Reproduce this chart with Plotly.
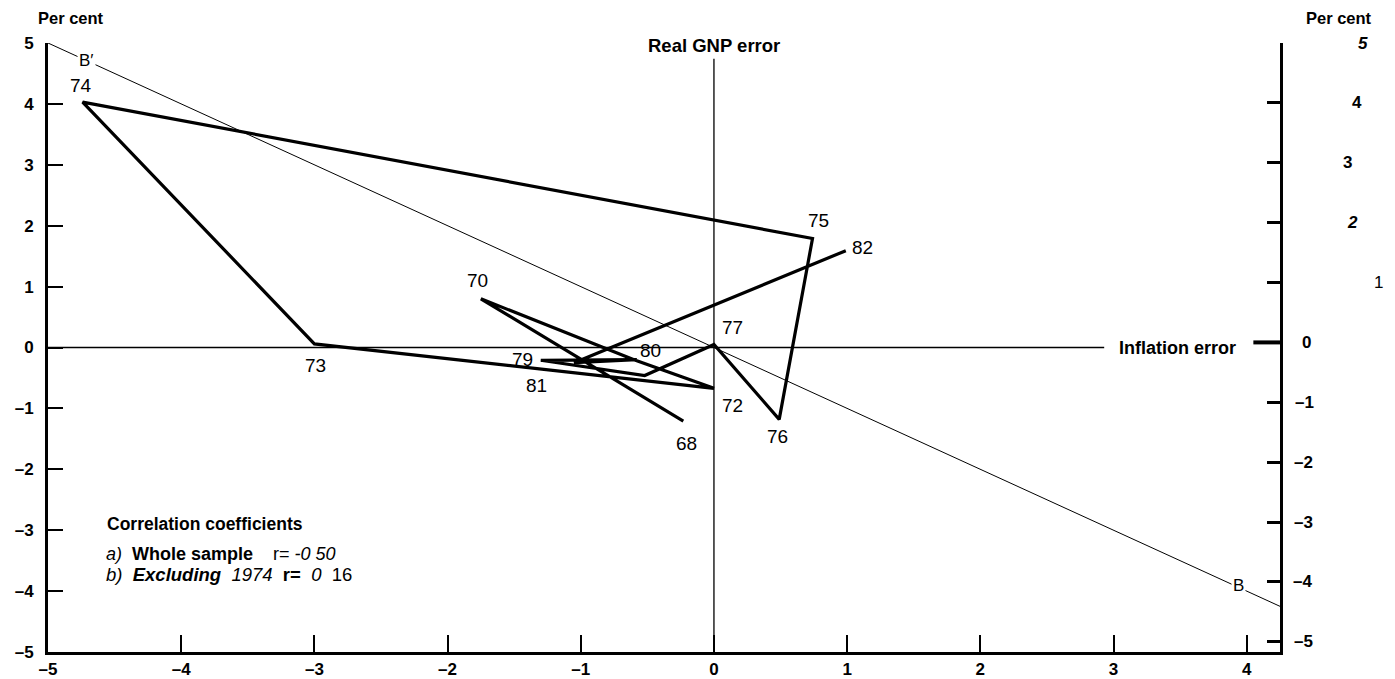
import plotly.graph_objects as go

# ---------------- data ----------------
years = ["68", "70", "71", "72", "73", "74", "75", "76", "77", "78", "79", "80", "81", "82"]
year_labels = ["68", "70", "", "72", "73", "74", "75", "76", "77", "", "79", "80", "81", "82"]
inflation_error = [-0.23, -1.75, -0.60, 0.00, -3.00, -4.74, 0.74, 0.49, 0.00, -0.52, -1.30, -0.58, -1.05, 0.99]
gnp_error = [-1.21, 0.80, -0.20, -0.67, 0.06, 4.03, 1.79, -1.18, 0.05, -0.46, -0.21, -0.20, -0.25, 1.59]

# regression-type reference line B'-B
ref_x = [-5.0, 4.25]
ref_y = [5.0, -4.25]

x_ticks = [-5, -4, -3, -2, -1, 0, 1, 2, 3, 4]
x_tick_text = ["–5", "–4", "–3", "–2", "–1", "0", "1", "2", "3", "4"]
y_ticks = [5, 4, 3, 2, 1, 0, -1, -2, -3, -4, -5]
y_tick_text = ["5", "4", "3", "2", "1", "0", "–1", "–2", "–3", "–4", "–5"]
right_ticks = [5, 4, 3, 2, 1, 0, -1, -2, -3, -4, -5]
right_tick_text = ["5", "4", "3", "2", "1", "0", "–1", "–2", "–3", "–4", "–5"]

# ---------------- styling helpers ----------------
label_offsets = {  # (xshift, yshift) in px for the year labels
    "68": (3, -22), "70": (-3, 18), "72": (19, -17), "73": (1, -22),
    "74": (-2, 17), "75": (6, 18), "76": (-2, -17), "77": (19, 17),
    "79": (-18, 1), "80": (14, 9), "81": (-38, -23), "82": (17, 3),
}
right_label_xshift = [83, 77, 67, 72, 98, 26, 24, 23, 23, 22, 23]
right_label_style = ["bi", "b", "b", "bi", "", "b", "b", "b", "b", "b", "b"]

TICKFONT = dict(family="Liberation Sans Narrow, Arial Narrow, Liberation Sans, Arial",
                size=17, color="black", weight="bold")
TEXTFONT = "Liberation Sans, Arial, sans-serif"

fig = go.Figure()

# reference line
fig.add_trace(go.Scatter(x=ref_x, y=ref_y, mode="lines",
                         line=dict(color="black", width=1), hoverinfo="skip",
                         showlegend=False))

# data path
fig.add_trace(go.Scatter(x=inflation_error, y=gnp_error, mode="lines",
                         line=dict(color="black", width=3.2),
                         text=years, showlegend=False))

# dummy trace for the right axis
fig.add_trace(go.Scatter(x=[None], y=[None], yaxis="y2", showlegend=False))

# axis lines through the origin
fig.add_shape(type="line", xref="x", yref="y", x0=0, x1=0, y0=-5, y1=4.74,
              line=dict(color="black", width=1.3))
fig.add_shape(type="line", xref="x", yref="y", x0=-5, x1=2.93, y0=0, y1=0,
              line=dict(color="black", width=1.3))
# thick zero tick on right axis
fig.add_shape(type="line", xref="x", yref="y2", x0=4.05, x1=4.25, y0=0, y1=0,
              line=dict(color="black", width=4))

annotations = []
for lab, xv, yv in zip(year_labels, inflation_error, gnp_error):
    if not lab:
        continue
    dx, dy = label_offsets[lab]
    annotations.append(dict(x=xv, y=yv, xref="x", yref="y", text=lab, showarrow=False,
                            xshift=dx, yshift=dy,
                            font=dict(family=TEXTFONT, size=19, color="black")))

# B' and B labels
annotations.append(dict(x=-4.71, y=4.71, xref="x", yref="y", text="B′", showarrow=False,
                        bgcolor="white", font=dict(family=TEXTFONT, size=17, color="black")))
annotations.append(dict(x=3.94, y=-3.9, xref="x", yref="y", text="B", showarrow=False,
                        bgcolor="white", font=dict(family=TEXTFONT, size=17, color="black")))

# axis titles
annotations.append(dict(x=0.0, y=1, xref="x", yref="paper", yanchor="middle", yshift=-2,
                        text="Real GNP error", showarrow=False,
                        font=dict(family=TEXTFONT, size=18.5, color="black", weight="bold")))
annotations.append(dict(x=2.93, y=0, xref="x", yref="y", xanchor="left", xshift=13,
                        text="Inflation error", showarrow=False,
                        font=dict(family=TEXTFONT, size=18, color="black", weight="bold")))
annotations.append(dict(x=0, y=1, xref="paper", yref="paper", xanchor="center",
                        yanchor="middle", xshift=23, yshift=25,
                        text="Per cent", showarrow=False,
                        font=dict(family=TEXTFONT, size=16.5, color="black", weight="bold")))
annotations.append(dict(x=1, y=1, xref="paper", yref="paper", xanchor="center",
                        yanchor="middle", xshift=59, yshift=25,
                        text="Per cent", showarrow=False,
                        font=dict(family=TEXTFONT, size=16.5, color="black", weight="bold")))

# right-hand tick labels
for val, txt, xs, st in zip(right_ticks, right_tick_text, right_label_xshift, right_label_style):
    t = txt
    if "i" in st:
        t = "<i>" + t + "</i>"
    annotations.append(dict(x=1, y=val, xref="paper", yref="y2", xanchor="center",
                            xshift=xs, text=t, showarrow=False,
                            font=dict(family=TICKFONT["family"], size=17, color="black",
                                      weight="bold" if "b" in st else "normal")))

# correlation box
annotations.append(dict(x=-4.57, y=-2.9, xref="x", yref="y", xanchor="left", showarrow=False,
                        text="Correlation coefficients",
                        font=dict(family=TEXTFONT, size=17.5, color="black", weight="bold")))
annotations.append(dict(x=-4.58, y=-3.39, xref="x", yref="y", xanchor="left", showarrow=False,
                        text="<i>a)</i>  <b>Whole sample</b>    r= <i>-0 50</i>",
                        font=dict(family=TEXTFONT, size=18, color="black")))
annotations.append(dict(x=-4.58, y=-3.72, xref="x", yref="y", xanchor="left", showarrow=False,
                        text="<i>b)</i>  <b><i>Excluding</i></b>  <i>1974</i>  <b>r=</b>  <i>0</i>  16",
                        font=dict(family=TEXTFONT, size=18.5, color="black")))

# The page adds an 8px body margin, so the figure is sized to the remaining viewport.
fig.update_layout(
    width=1387, height=671,
    margin=dict(l=40, r=115, t=35, b=27, autoexpand=False),
    paper_bgcolor="white", plot_bgcolor="white",
    showlegend=False,
    xaxis=dict(range=[-5, 4.25], tickvals=x_ticks, ticktext=x_tick_text,
               showgrid=False, zeroline=False, showline=True, linecolor="black",
               linewidth=3, ticks="inside", ticklen=17, tickwidth=1.5, tickcolor="black",
               tickfont=TICKFONT, fixedrange=True, automargin=False),
    yaxis=dict(range=[-5, 5], tickvals=y_ticks, ticktext=y_tick_text,
               showgrid=False, zeroline=False, showline=True, linecolor="black",
               linewidth=3, ticks="inside", ticklen=15, tickwidth=1.5, tickcolor="black",
               tickfont=TICKFONT, ticklabelstandoff=8, fixedrange=True, automargin=False),
    yaxis2=dict(range=[-5.17, 5], overlaying="y", side="right", tickvals=right_ticks,
                showticklabels=False, showgrid=False, zeroline=False, showline=True,
                linecolor="black", linewidth=2.5, ticks="inside", ticklen=13,
                tickwidth=2.5, tickcolor="black", fixedrange=True, automargin=False),
    annotations=annotations,
)

fig.write_html("out.html")
